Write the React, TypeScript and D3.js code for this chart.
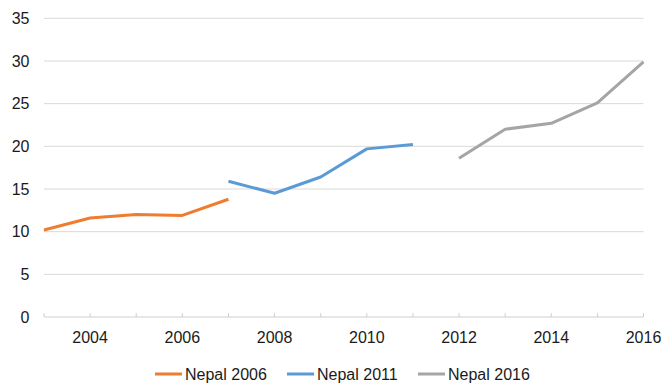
import React from "react";
import * as d3 from "d3";

const years2006 = [2003, 2004, 2005, 2006, 2007];
const values2006 = [10.2, 11.6, 12.0, 11.9, 13.8];
const years2011 = [2007, 2008, 2009, 2010, 2011];
const values2011 = [15.9, 14.5, 16.4, 19.7, 20.2];
const years2016 = [2012, 2013, 2014, 2015, 2016];
const values2016 = [18.6, 22.0, 22.7, 25.1, 29.9];
const seriesNames = ["Nepal 2006", "Nepal 2011", "Nepal 2016"];
const seriesColors = ["#ED7D31", "#5B9BD5", "#A5A5A5"];
const yTicks = [0, 5, 10, 15, 20, 25, 30, 35];
const xTickLabels = [2004, 2006, 2008, 2010, 2012, 2014, 2016];
const xMinorTicks = d3.range(2003, 2017);

export default function App() {
  const W = 661, H = 386;
  const x = d3.scaleLinear().domain([2003, 2016]).range([44, 643.5]);
  const y = d3.scaleLinear().domain([0, 35]).range([317, 18.3]);
  const line = d3.line<[number, number]>().x(d => x(d[0])).y(d => y(d[1]));
  const series = [
    years2006.map((yr, i) => [yr, values2006[i]] as [number, number]),
    years2011.map((yr, i) => [yr, values2011[i]] as [number, number]),
    years2016.map((yr, i) => [yr, values2016[i]] as [number, number]),
  ];
  const legendX = [155, 287, 418];
  const font = "Liberation Sans, Arial, sans-serif";
  return (
    <svg width={W} height={H} style={{ position: "absolute", left: 0, top: 0, background: "#fff" }} fontFamily={font}>
      {yTicks.map(t => (
        <g key={t}>
          {t !== 0 && <line x1={x(2003)} x2={x(2016)} y1={y(t)} y2={y(t)} stroke="#D9D9D9" strokeWidth={1} />}
          <text x={29.5} y={y(t)} dy="0.36em" textAnchor="end" fontSize={16} fill="#1a1a1a">{t}</text>
        </g>
      ))}
      <line x1={x(2003)} x2={x(2016)} y1={y(0)} y2={y(0)} stroke="#D0D0D0" strokeWidth={1} />
      {xMinorTicks.map(t => (
        <line key={t} x1={x(t)} x2={x(t)} y1={y(0)} y2={y(0) - 4} stroke="#D0D0D0" strokeWidth={1} />
      ))}
      {xTickLabels.map(t => (
        <text key={t} x={x(t)} y={342.5} textAnchor="middle" fontSize={16} fill="#1a1a1a">{t}</text>
      ))}
      {series.map((s, i) => (
        <path key={i} d={line(s) || ""} fill="none" stroke={seriesColors[i]} strokeWidth={3} strokeLinejoin="round" />
      ))}
      {seriesNames.map((n, i) => (
        <g key={n}>
          <line x1={legendX[i]} x2={legendX[i] + 27} y1={374} y2={374} stroke={seriesColors[i]} strokeWidth={3} />
          <text x={legendX[i] + 30} y={374} dy="0.36em" fontSize={16} fill="#1a1a1a">{n}</text>
        </g>
      ))}
    </svg>
  );
}
